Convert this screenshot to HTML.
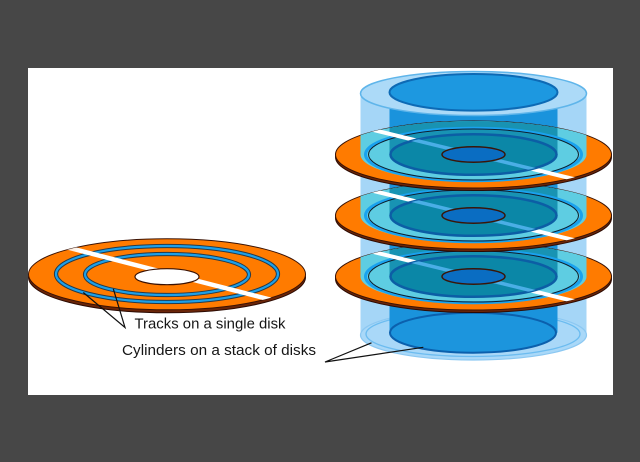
<!DOCTYPE html>
<html>
<head>
<meta charset="utf-8">
<style>
  html,body{margin:0;padding:0;background:#474747;}
  body{width:640px;height:462px;overflow:hidden;}
  svg{display:block;}
  text{font-family:"Liberation Sans", Arial, sans-serif;fill:#151515;}
</style>
</head>
<body>
<svg width="640" height="462" viewBox="0 0 640 462" xmlns="http://www.w3.org/2000/svg">
  <defs>
    <clipPath id="lf"><ellipse cx="167" cy="274.3" rx="138.5" ry="35.5"/></clipPath>
    <clipPath id="sf"><ellipse cx="473.5" cy="0" rx="138" ry="33.5"/></clipPath>
    <clipPath id="st"><ellipse cx="473.5" cy="0" rx="83" ry="20.3"/></clipPath>
    <linearGradient id="lg" x1="40" y1="240" x2="310" y2="310" gradientUnits="userSpaceOnUse">
      <stop offset="0" stop-color="#fff" stop-opacity="0.3"/>
      <stop offset="0.15" stop-color="#fff" stop-opacity="1"/>
      <stop offset="0.85" stop-color="#fff" stop-opacity="1"/>
      <stop offset="1" stop-color="#fff" stop-opacity="0.3"/>
    </linearGradient>
    <linearGradient id="sg" x1="330" y1="-35" x2="617" y2="35" gradientUnits="userSpaceOnUse">
      <stop offset="0" stop-color="#fff" stop-opacity="0.4"/>
      <stop offset="0.12" stop-color="#fff" stop-opacity="1"/>
      <stop offset="0.88" stop-color="#fff" stop-opacity="1"/>
      <stop offset="1" stop-color="#fff" stop-opacity="0.4"/>
    </linearGradient>
    <g id="sdisk">
      <ellipse cx="473.5" cy="2.5" rx="138" ry="33.5" fill="#6a2508" stroke="#2b0a02" stroke-width="1"/>
      <ellipse cx="473.5" cy="0" rx="138" ry="33.5" fill="#ff7b00" stroke="#3a1204" stroke-width="1"/>
      <g clip-path="url(#sf)">
        <rect x="360.5" y="-34" width="226" height="34" fill="#5ecde2"/>
        <ellipse cx="473.5" cy="0" rx="113" ry="27.5" fill="#5ecde2"/>
        <rect x="389.5" y="-34" width="168" height="34" fill="#1893b3"/>
      </g>
      <ellipse cx="473.5" cy="0" rx="108" ry="26.3" fill="none" stroke="#1aa2ee" stroke-width="3"/>
      <ellipse cx="473.5" cy="0" rx="105" ry="25.5" fill="none" stroke="#0e1e2c" stroke-width="1"/>
      <g clip-path="url(#sf)">
        <line x1="330" y1="-35.2" x2="617" y2="35.2" stroke="url(#sg)" stroke-width="4"/>
      </g>
      <ellipse cx="473.5" cy="0" rx="83" ry="20.3" fill="#0b87a7" stroke="#0c5ea5" stroke-width="2.5"/>
      <g clip-path="url(#st)">
        <line x1="330" y1="-35.2" x2="617" y2="35.2" stroke="#4aaee6" stroke-width="3.5"/>
      </g>
      <ellipse cx="473.5" cy="0" rx="31.5" ry="7.7" fill="#0a6dc2" stroke="#3a1508" stroke-width="1.5"/>
    </g>
  </defs>

  <!-- white panel -->
  <rect x="28" y="68" width="585" height="327" fill="#ffffff"/>

  <!-- ===== Left single disk ===== -->
  <ellipse cx="167" cy="277.3" rx="138.5" ry="35.5" fill="#6a2508" stroke="#2b0a02" stroke-width="1"/>
  <ellipse cx="167" cy="274.3" rx="138.5" ry="35.5" fill="#ff7b00" stroke="#3a1204" stroke-width="1"/>
  <ellipse cx="167" cy="274" rx="111" ry="28" fill="none" stroke="#243a4a" stroke-width="4.2"/>
  <ellipse cx="167" cy="274" rx="111" ry="28" fill="none" stroke="#1d9fe8" stroke-width="2.2"/>
  <ellipse cx="167" cy="274.5" rx="82" ry="20.5" fill="none" stroke="#243a4a" stroke-width="4.2"/>
  <ellipse cx="167" cy="274.5" rx="82" ry="20.5" fill="none" stroke="#1d9fe8" stroke-width="2.2"/>
  <g clip-path="url(#lf)">
    <line x1="40" y1="240.4" x2="310" y2="309.8" stroke="url(#lg)" stroke-width="4.5"/>
  </g>
  <ellipse cx="167" cy="276.7" rx="32" ry="8" fill="#ffffff" stroke="#3a1204" stroke-width="1.2"/>

  <!-- ===== Stack: cylinder body ===== -->
  <rect x="360.5" y="93.5" width="226" height="241.5" fill="#a5d6f7"/>
  <ellipse cx="473.5" cy="335" rx="113" ry="25" fill="#a9d8f8" stroke="#8cc8f2" stroke-width="1.2"/>
  <ellipse cx="473" cy="334" rx="107" ry="22.5" fill="none" stroke="#6cbcf0" stroke-width="1.3"/>
  <rect x="389.5" y="92.3" width="168" height="240.4" fill="#1a93dc"/>
  <ellipse cx="473" cy="332.7" rx="83" ry="20" fill="#1c95dd" stroke="#0b60ad" stroke-width="2"/>

  <!-- top caps -->
  <ellipse cx="473.5" cy="93.5" rx="113" ry="22" fill="#acdaf8" stroke="#5fb5ea" stroke-width="1.5"/>
  <ellipse cx="473.5" cy="92.3" rx="84" ry="18.3" fill="#1d98e0" stroke="#0d6ab5" stroke-width="2"/>

  <!-- ===== Stack disks (bottom to top) ===== -->
  <g transform="translate(0,276.5)"><use href="#sdisk"/></g>
  <g transform="translate(0,215.5)"><use href="#sdisk"/></g>
  <g transform="translate(0,154.5)"><use href="#sdisk"/></g>

  <!-- ===== Leader lines ===== -->
  <g stroke="#111" stroke-width="1.2" fill="none">
    <polyline points="83.3,292.5 125,327.5 113.3,288.8"/>
    <polyline points="371.5,342.8 325,362 423.3,347.3"/>
  </g>

  <!-- ===== Labels ===== -->
  <text x="134.5" y="328.5" font-size="14.5" textLength="151" lengthAdjust="spacingAndGlyphs">Tracks on a single disk</text>
  <text x="122" y="355" font-size="15" textLength="194" lengthAdjust="spacingAndGlyphs">Cylinders on a stack of disks</text>
</svg>
</body>
</html>
